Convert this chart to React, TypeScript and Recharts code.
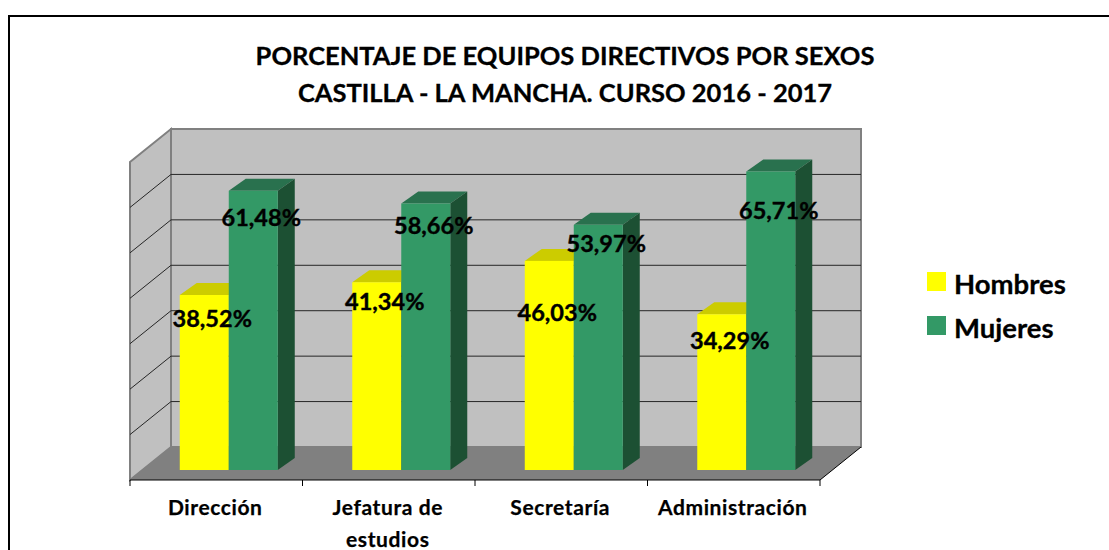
import { BarChart, Bar, XAxis, YAxis, CartesianGrid, Legend, LabelList, usePlotArea } from 'recharts'

const categories = ['Dirección', 'Jefatura de estudios', 'Secretaría', 'Administración']
const tickLines = [['Dirección'], ['Jefatura de', 'estudios'], ['Secretaría'], ['Administración']]
const hombres = [38.52, 41.34, 46.03, 34.29]
const mujeres = [61.48, 58.66, 53.97, 65.71]
const yTicks = [0, 10, 20, 30, 40, 50, 60, 70]
const titleLines = ['PORCENTAJE DE EQUIPOS DIRECTIVOS POR SEXOS', 'CASTILLA - LA MANCHA. CURSO 2016 - 2017']

// the data labels were moved by hand in the original, distance below the bar top
const hombresLabelDrop = [24, 20, 52, 27]
const mujeresLabelDrop = [27, 22, 19, 40]

const data = categories.map((name, i) => ({ name, hombres: hombres[i], mujeres: mujeres[i] }))

const FONT = 'Lato, "Open Sans", sans-serif'

// fake 3d: depth of the room and of the bars, bars stand in the middle of the floor
const ROOM_DX = 41
const ROOM_DY = -33
const BAR_DX = 12.5
const BAR_DY = -10
const DEPTH_X = 17
const DEPTH_Y = -12

function Room() {
  const plot = usePlotArea()
  if (!plot) return null
  const { x, y, width, height } = plot
  const b = y + height
  const r = x + width
  return (
    <g>
      <rect x={x + ROOM_DX} y={y + ROOM_DY} width={width} height={height} fill="#c0c0c0" stroke="#808080" strokeWidth={2} />
      <polygon
        points={`${x},${y} ${x + ROOM_DX},${y + ROOM_DY} ${x + ROOM_DX},${b + ROOM_DY} ${x},${b}`}
        fill="#c0c0c0"
        stroke="#808080"
        strokeWidth={2}
      />
      <polygon points={`${x},${b} ${x + ROOM_DX},${b + ROOM_DY} ${r + ROOM_DX},${b + ROOM_DY} ${r},${b}`} fill="#808080" />
      <line x1={r} y1={b} x2={r + ROOM_DX} y2={b + ROOM_DY} stroke="#000" />
    </g>
  )
}

function GridLine(props: any) {
  const { x1, x2, y1, index } = props
  // top and bottom ones are the room edges
  const edge = y1 < 163 || y1 > 479
  return (
    <g>
      {index === 0 && <Room />}
      {!edge && (
        <g stroke="#262626" strokeWidth={1}>
          <line x1={x1} y1={y1} x2={x1 + ROOM_DX} y2={y1 + ROOM_DY} />
          <line x1={x1 + ROOM_DX} y1={y1 + ROOM_DY} x2={x2 + ROOM_DX} y2={y1 + ROOM_DY} />
        </g>
      )}
    </g>
  )
}

function Bar3D(props: any) {
  const { x, y, width, height, fill, topFill, sideFill } = props
  const l = x + BAR_DX
  const t = y + BAR_DY
  const r = l + width
  const b = t + height
  return (
    <g>
      <polygon
        points={`${l},${t} ${l + DEPTH_X},${t + DEPTH_Y} ${r + DEPTH_X},${t + DEPTH_Y} ${r},${t}`}
        fill={topFill}
      />
      <polygon
        points={`${r},${t} ${r + DEPTH_X},${t + DEPTH_Y} ${r + DEPTH_X},${b + DEPTH_Y} ${r},${b}`}
        fill={sideFill}
      />
      <rect x={l} y={t} width={width} height={height} fill={fill} />
    </g>
  )
}

function BarLabel(props: any) {
  const { x, y, width, value, index, drops } = props
  return (
    <text
      x={x + width / 2 + BAR_DX + 8}
      y={y + BAR_DY + drops[index] + 8}
      textAnchor="middle"
      fontFamily={FONT}
      fontWeight={700}
      fontSize={23.5}
      stroke="#000"
      strokeWidth={0.4}
      fill="#000"
    >
      {Number(value).toFixed(2).replace('.', ',') + '%'}
    </text>
  )
}

function CategoryTick(props: any) {
  const { x, payload, index } = props
  const band = 690 / categories.length
  const lines = tickLines[index] || [payload.value]
  return (
    <g>
      <line x1={x - band / 2} y1={480} x2={x - band / 2} y2={486} stroke="#000" />
      {index === categories.length - 1 && <line x1={x + band / 2} y1={480} x2={x + band / 2} y2={486} stroke="#000" />}
      {lines.map((line: string, i: number) => (
        <text
          key={line}
          x={x - 1}
          y={515 + i * 32}
          textAnchor="middle"
          fontFamily={FONT}
          fontWeight={700}
          fontSize={21}
          letterSpacing={0.6}
          stroke="#000"
          strokeWidth={0.25}
          fill="#000"
        >
          {line}
        </text>
      ))}
    </g>
  )
}

function LegendBox({ payload }: any) {
  return (
    <div style={{ fontFamily: FONT, fontWeight: 700, fontSize: 27.5, color: '#000', WebkitTextStroke: '0.3px #000' }}>
      {(payload || []).map((p: any) => (
        <div key={p.value} style={{ display: 'flex', alignItems: 'center', height: 44 }}>
          <span style={{ width: 19, height: 19, background: p.color, marginRight: 8 }} />
          <span style={{ position: 'relative', top: 2 }}>{p.value}</span>
        </div>
      ))}
    </div>
  )
}

export default function App() {
  return (
    <div style={{ position: 'absolute', left: 0, top: 0, width: 1109, height: 550, overflow: 'hidden', background: '#fff' }}>
      <div style={{ position: 'absolute', left: 8, top: 15, width: 1101, height: 535, borderLeft: '2px solid #000', borderTop: '2px solid #000' }} />
      <div style={{ position: 'absolute', left: 0, top: 0 }}>
        <BarChart
          width={1109}
          height={550}
          data={data}
          margin={{ top: 162, right: 289, bottom: 0, left: 130 }}
          barCategoryGap="21.6%"
          barGap={0}
        >
          <text x={565} y={65} textAnchor="middle" fontFamily={FONT} fontWeight={700} fontSize={25.5} stroke="#000" strokeWidth={0.3} fill="#000">
            {titleLines[0]}
          </text>
          <text x={565} y={102} textAnchor="middle" fontFamily={FONT} fontWeight={700} fontSize={25.5} stroke="#000" strokeWidth={0.3} fill="#000">
            {titleLines[1]}
          </text>
          <CartesianGrid vertical={false} horizontal={(p: any) => <GridLine {...p} />} />
          <XAxis
            dataKey="name"
            height={70}
            interval={0}
            axisLine={{ stroke: '#000', strokeWidth: 1 }}
            tickLine={false}
            tick={(p: any) => <CategoryTick {...p} />}
          />
          <YAxis hide domain={[0, 70]} ticks={yTicks} />
          <Legend
            layout="vertical"
            align="center"
            verticalAlign="middle"
            wrapperStyle={{ left: 927, top: 259, width: 170 }}
            content={(p: any) => <LegendBox {...p} />}
          />
          <Bar
            dataKey="hombres"
            name="Hombres"
            fill="#ffff00"
            isAnimationActive={false}
            shape={(p: any) => <Bar3D {...p} topFill="#cccc00" sideFill="#808000" />}
          >
            <LabelList dataKey="hombres" content={(p: any) => <BarLabel {...p} drops={hombresLabelDrop} />} />
          </Bar>
          <Bar
            dataKey="mujeres"
            name="Mujeres"
            fill="#339966"
            isAnimationActive={false}
            shape={(p: any) => <Bar3D {...p} topFill="#29714e" sideFill="#1c5033" />}
          >
            <LabelList dataKey="mujeres" content={(p: any) => <BarLabel {...p} drops={mujeresLabelDrop} />} />
          </Bar>
        </BarChart>
      </div>
    </div>
  )
}
